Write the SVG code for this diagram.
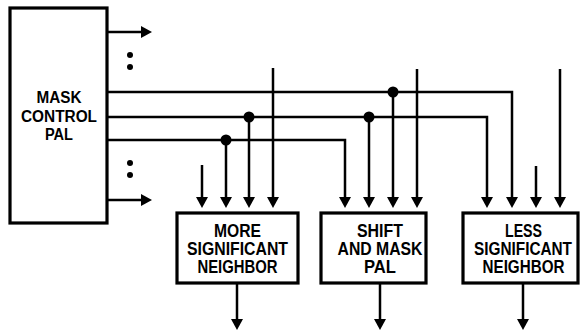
<svg xmlns="http://www.w3.org/2000/svg" width="581" height="332" viewBox="0 0 581 332">
<defs>
<style>
.box{fill:#fff;stroke:#000;stroke-width:3.2}
.ln{fill:none;stroke:#000;stroke-width:2.5;stroke-linejoin:miter}
.arr{marker-end:url(#ah)}
text{font-family:"Liberation Sans",Arial,sans-serif;font-weight:bold;font-size:17.5px;fill:#000;text-anchor:middle}
.sm{font-size:16px}
</style>
<marker id="ah" markerUnits="userSpaceOnUse" viewBox="0 0 11 12" markerWidth="11" markerHeight="12" refX="5" refY="6" orient="auto">
<path d="M0,0 L11,6 L0,12 z" fill="#000"/>
</marker>
</defs>
<rect width="581" height="332" fill="#fff"/>
<g id="connectors">
<line class="ln arr" x1="107" y1="32" x2="146" y2="32"/>
<line class="ln arr" x1="107" y1="200" x2="146" y2="200"/>
<polyline class="ln arr" points="107,92 512,92 512,202"/>
<polyline class="ln arr" points="107,117 487,117 487,202"/>
<polyline class="ln arr" points="107,140 345,140 345,202"/>
<line class="ln arr" x1="202" y1="165" x2="202" y2="202"/>
<line class="ln arr" x1="226" y1="140" x2="226" y2="202"/>
<line class="ln arr" x1="249" y1="117" x2="249" y2="202"/>
<line class="ln arr" x1="273" y1="68" x2="273" y2="202"/>
<line class="ln arr" x1="369" y1="117" x2="369" y2="202"/>
<line class="ln arr" x1="393" y1="92" x2="393" y2="202"/>
<line class="ln arr" x1="417" y1="69" x2="417" y2="202"/>
<line class="ln arr" x1="536" y1="166" x2="536" y2="202"/>
<line class="ln arr" x1="560" y1="69" x2="560" y2="202"/>
<line class="ln arr" x1="237" y1="283" x2="237" y2="324"/>
<line class="ln arr" x1="380" y1="283" x2="380" y2="324"/>
<line class="ln arr" x1="523" y1="283" x2="523" y2="324"/>
<circle cx="226" cy="140" r="5.5"/>
<circle cx="249" cy="117" r="5.5"/>
<circle cx="369" cy="117" r="5.5"/>
<circle cx="393" cy="92" r="5.5"/>
<circle cx="130" cy="55" r="3"/>
<circle cx="130" cy="67" r="3"/>
<circle cx="130" cy="163" r="3"/>
<circle cx="130" cy="175" r="3"/>
</g>
<g id="mask-control-pal">
<rect class="box" x="10" y="8" width="97" height="215"/>
<text class="sm" x="59" y="103.3" textLength="45" lengthAdjust="spacingAndGlyphs">MASK</text>
<text class="sm" x="59" y="121.7" textLength="76" lengthAdjust="spacingAndGlyphs">CONTROL</text>
<text class="sm" x="59" y="140" textLength="28" lengthAdjust="spacingAndGlyphs">PAL</text>
</g>
<g id="more-significant">
<rect class="box" x="177" y="213" width="121" height="70"/>
<text x="237.5" y="236.5" textLength="47" lengthAdjust="spacingAndGlyphs">MORE</text>
<text x="237.5" y="255" textLength="101" lengthAdjust="spacingAndGlyphs">SIGNIFICANT</text>
<text x="237.5" y="273.3" textLength="80" lengthAdjust="spacingAndGlyphs">NEIGHBOR</text>
</g>
<g id="shift-mask-pal">
<rect class="box" x="321" y="213" width="105" height="70"/>
<text x="380" y="236.5" textLength="46" lengthAdjust="spacingAndGlyphs">SHIFT</text>
<text x="380" y="255" textLength="85" lengthAdjust="spacingAndGlyphs">AND MASK</text>
<text x="380" y="273.3" textLength="32" lengthAdjust="spacingAndGlyphs">PAL</text>
</g>
<g id="less-significant">
<rect class="box" x="463" y="213" width="115" height="70"/>
<text x="523.5" y="236.5" textLength="37" lengthAdjust="spacingAndGlyphs">LESS</text>
<text x="523" y="255" textLength="98" lengthAdjust="spacingAndGlyphs">SIGNIFICANT</text>
<text x="523.5" y="273.3" textLength="82" lengthAdjust="spacingAndGlyphs">NEIGHBOR</text>
</g>
</svg>
